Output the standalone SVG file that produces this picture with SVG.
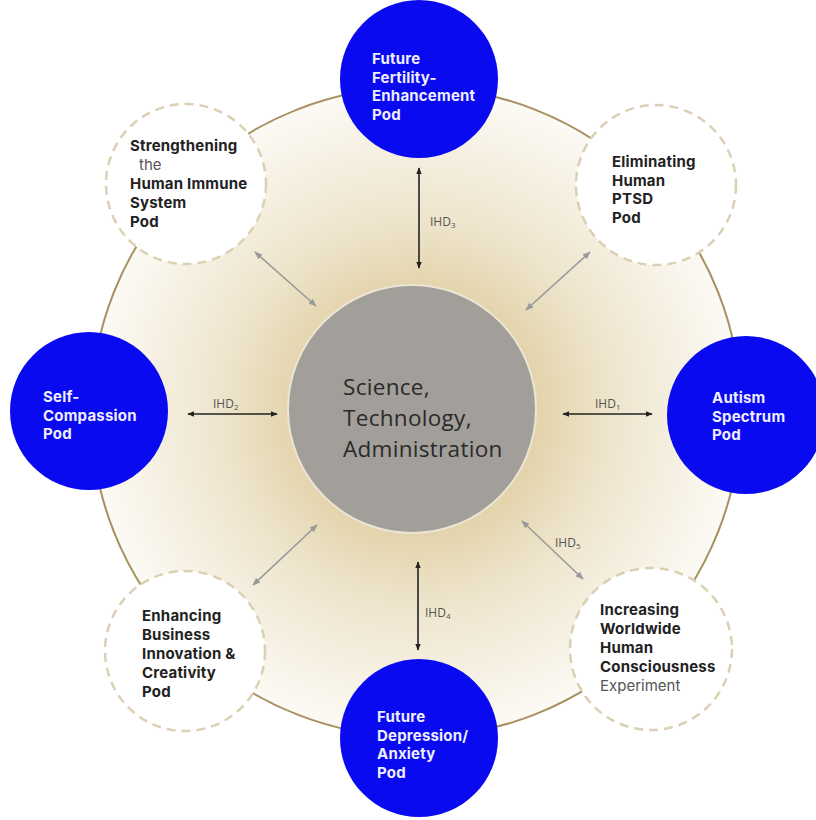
<svg xmlns="http://www.w3.org/2000/svg" width="816" height="820" viewBox="0 0 816 820">
<defs>
<radialGradient id="glow" cx="416" cy="412" r="325" gradientUnits="userSpaceOnUse">
<stop offset="0" stop-color="#dcc99c"/>
<stop offset="0.38" stop-color="#e4d4ad"/>
<stop offset="0.6" stop-color="#eee5cd"/>
<stop offset="0.85" stop-color="#f7f2e6"/>
<stop offset="1" stop-color="#fcfaf5"/>
</radialGradient>
<marker id="ab" viewBox="0 0 10 10" refX="9" refY="5" markerWidth="7" markerHeight="7" orient="auto-start-reverse" markerUnits="userSpaceOnUse"><path d="M0,1 L10,5 L0,9 Z" fill="#222"/></marker>
<marker id="ag" viewBox="0 0 10 10" refX="9" refY="5" markerWidth="8" markerHeight="8" orient="auto-start-reverse" markerUnits="userSpaceOnUse"><path d="M0,1 L10,5 L0,9 Z" fill="#9a9a9a"/></marker>
<style>
.blue{fill:#0a0af0}
.dash{fill:#fff;stroke:#dcd0b4;stroke-width:2.5;stroke-dasharray:9 6}
.wt{font-family:Inter,"Open Sans",sans-serif;font-weight:bold;font-size:15px;letter-spacing:0.2px;fill:#eeeeff}
.bt{font-family:Inter,"Open Sans",sans-serif;font-weight:bold;font-size:15px;letter-spacing:0.2px;fill:#222}
.rt{font-family:Inter,"Open Sans",sans-serif;font-size:15px;fill:#555}
.ihd{font-family:"Open Sans","DejaVu Sans",sans-serif;font-size:12px;fill:#555}
.sub{font-size:8px}
.bl{stroke:#222;stroke-width:1.6;fill:none}
.gl{stroke:#9a9a9a;stroke-width:1.6;fill:none}
</style>
</defs>
<rect width="816" height="820" fill="#fff"/>
<circle cx="416" cy="412" r="325" fill="url(#glow)" stroke="#a89060" stroke-width="2"/>

<g id="center">
<circle cx="412" cy="409" r="124" fill="#a29e99" stroke="#ebe5d3" stroke-width="2"/>
<text font-family="'Open Sans','DejaVu Sans',sans-serif" font-size="22.5px" letter-spacing="0.3px" fill="#2a2a2a"><tspan x="343" y="395">Science,</tspan><tspan x="343" y="426">Technology,</tspan><tspan x="343" y="457">Administration</tspan></text>
</g>

<g id="connectors">
<line class="bl" x1="419" y1="168" x2="419" y2="268" marker-start="url(#ab)" marker-end="url(#ab)"/>
<text class="ihd" x="430" y="226">IHD<tspan class="sub" dy="2">3</tspan></text>
<line class="bl" x1="563" y1="414" x2="652" y2="414" marker-start="url(#ab)" marker-end="url(#ab)"/>
<text class="ihd" x="595" y="408">IHD<tspan class="sub" dy="2">1</tspan></text>
<line class="bl" x1="188" y1="414" x2="277" y2="414" marker-start="url(#ab)" marker-end="url(#ab)"/>
<text class="ihd" x="213" y="408">IHD<tspan class="sub" dy="2">2</tspan></text>
<line class="bl" x1="418" y1="562" x2="418" y2="650" marker-start="url(#ab)" marker-end="url(#ab)"/>
<text class="ihd" x="425" y="617">IHD<tspan class="sub" dy="2">4</tspan></text>
<line class="gl" x1="522" y1="521" x2="583" y2="579" marker-start="url(#ag)" marker-end="url(#ag)"/>
<text class="ihd" x="555" y="547">IHD<tspan class="sub" dy="2">5</tspan></text>
<line class="gl" x1="255" y1="252" x2="316" y2="306" marker-start="url(#ag)" marker-end="url(#ag)"/>
<line class="gl" x1="590" y1="252" x2="526" y2="310" marker-start="url(#ag)" marker-end="url(#ag)"/>
<line class="gl" x1="253" y1="585" x2="317" y2="525" marker-start="url(#ag)" marker-end="url(#ag)"/>
</g>

<g id="fertility">
<circle class="blue" cx="419" cy="79" r="79"/>
<text class="wt"><tspan x="372" y="64">Future</tspan><tspan x="372" y="82.5">Fertility-</tspan><tspan x="372" y="101">Enhancement</tspan><tspan x="372" y="119.5">Pod</tspan></text>
</g>

<g id="autism">
<circle class="blue" cx="746" cy="415" r="79"/>
<text class="wt"><tspan x="712" y="403">Autism</tspan><tspan x="712" y="421.5">Spectrum</tspan><tspan x="712" y="440">Pod</tspan></text>
</g>

<g id="selfcompassion">
<circle class="blue" cx="89" cy="411" r="79"/>
<text class="wt"><tspan x="43" y="402">Self-</tspan><tspan x="43" y="420.5">Compassion</tspan><tspan x="43" y="439">Pod</tspan></text>
</g>

<g id="depression">
<circle class="blue" cx="419" cy="738" r="79"/>
<text class="wt"><tspan x="377" y="722">Future</tspan><tspan x="377" y="740.5">Depression/</tspan><tspan x="377" y="759">Anxiety</tspan><tspan x="377" y="777.5">Pod</tspan></text>
</g>

<g id="immune">
<circle class="dash" cx="186" cy="184" r="80"/>
<text class="bt" x="130" y="151">Strengthening</text>
<text class="rt" x="139" y="169.5">the</text>
<text class="bt"><tspan x="130" y="188.5">Human Immune</tspan><tspan x="130" y="207.5">System</tspan><tspan x="130" y="226.5">Pod</tspan></text>
</g>

<g id="ptsd">
<circle class="dash" cx="656" cy="185" r="80"/>
<text class="bt"><tspan x="612" y="167">Eliminating</tspan><tspan x="612" y="185.5">Human</tspan><tspan x="612" y="204">PTSD</tspan><tspan x="612" y="222.5">Pod</tspan></text>
</g>

<g id="business">
<circle class="dash" cx="185" cy="651" r="80"/>
<text class="bt"><tspan x="142" y="621">Enhancing</tspan><tspan x="142" y="640">Business</tspan><tspan x="142" y="659">Innovation &amp;</tspan><tspan x="142" y="678">Creativity</tspan><tspan x="142" y="697">Pod</tspan></text>
</g>

<g id="consciousness">
<circle class="dash" cx="651" cy="649" r="81"/>
<text class="bt"><tspan x="600" y="615">Increasing</tspan><tspan x="600" y="634">Worldwide</tspan><tspan x="600" y="653">Human</tspan><tspan x="600" y="672">Consciousness</tspan></text>
<text class="rt" x="600" y="691">Experiment</text>
</g>
</svg>
